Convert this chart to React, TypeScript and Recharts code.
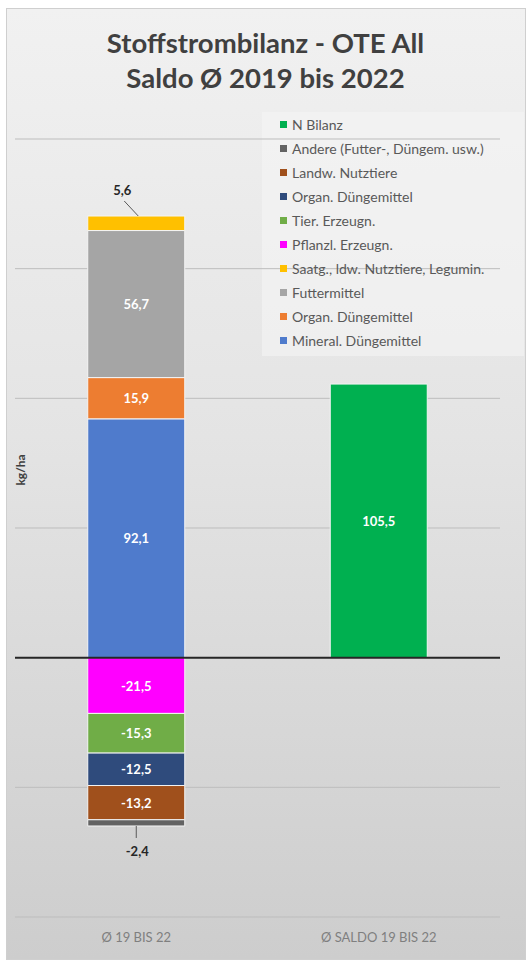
import React from 'react';
import { BarChart, Bar, XAxis, YAxis, CartesianGrid, ReferenceLine, LabelList } from 'recharts';

// categories on the x axis
const categories = ['Ø 19 BIS 22', 'Ø SALDO 19 BIS 22'];

// series values, kg/ha (first category = inputs/outputs, second = balance)
const mineralDuenger = [92.1, null];
const organDuengerIn = [15.9, null];
const futtermittel = [56.7, null];
const saatgut = [5.6, null];
const pflanzlErzeugn = [-21.5, null];
const tierErzeugn = [-15.3, null];
const organDuengerOut = [-12.5, null];
const landwNutztiere = [-13.2, null];
const andere = [-2.4, null];
const nBilanz = [null, 105.5];

const yTicks = [-100, -50, 0, 50, 100, 150, 200];

const FONT = 'Lato, "Open Sans", sans-serif';

// stacking order: positives upward from zero, negatives downward
const series = [
  { key: 'mineral', name: 'Mineral. Düngemittel', values: mineralDuenger, color: '#4f7bcc' },
  { key: 'organIn', name: 'Organ. Düngemittel', values: organDuengerIn, color: '#ed7d31' },
  { key: 'futter', name: 'Futtermittel', values: futtermittel, color: '#a5a5a5' },
  { key: 'saat', name: 'Saatg., ldw. Nutztiere, Legumin.', values: saatgut, color: '#ffc000' },
  { key: 'pflanzl', name: 'Pflanzl. Erzeugn.', values: pflanzlErzeugn, color: '#ff00ff' },
  { key: 'tier', name: 'Tier. Erzeugn.', values: tierErzeugn, color: '#70ad47' },
  { key: 'organOut', name: 'Organ. Düngemittel', values: organDuengerOut, color: '#2f4b7c' },
  { key: 'landw', name: 'Landw. Nutztiere', values: landwNutztiere, color: '#a0501c' },
  { key: 'andere', name: 'Andere (Futter-, Düngem. usw.)', values: andere, color: '#636363' },
  { key: 'nbil', name: 'N Bilanz', values: nBilanz, color: '#00b050' },
];

const data = categories.map((cat, i) => {
  const row: Record<string, any> = { cat };
  series.forEach((s) => {
    row[s.key] = s.values[i];
  });
  return row;
});

const fmt = (v: number) => v.toFixed(1).replace('.', ',');

const insideLabel = (props: any) => {
  const { x, y, width, height, value } = props;
  if (value === null || value === undefined) return null;
  const top = Math.min(y, y + height);
  const h = Math.abs(height);
  return (
    <text
      x={x + width / 2}
      y={top + h / 2}
      textAnchor="middle"
      dominantBaseline="central"
      fill="#ffffff"
      fontSize={13}
      fontWeight={700}
      fontFamily={FONT}
    >
      {fmt(value)}
    </text>
  );
};

const aboveLabel = (props: any) => {
  const { x, y, width, height, value } = props;
  if (value === null || value === undefined) return null;
  const top = Math.min(y, y + height);
  const cx = x + width / 2;
  return (
    <g>
      <line x1={cx + 2} y1={top} x2={cx - 12} y2={top - 15} stroke="#595959" strokeWidth={1} />
      <text
        x={cx - 14}
        y={top - 26}
        textAnchor="middle"
        dominantBaseline="central"
        fill="#262626"
        fontSize={13}
        fontWeight={700}
        fontFamily={FONT}
      >
        {fmt(value)}
      </text>
    </g>
  );
};

const belowLabel = (props: any) => {
  const { x, y, width, height, value } = props;
  if (value === null || value === undefined) return null;
  const bottom = Math.max(y, y + height);
  const cx = x + width / 2;
  return (
    <g>
      <line x1={cx} y1={bottom} x2={cx} y2={bottom + 12} stroke="#595959" strokeWidth={1} />
      <text
        x={cx + 1}
        y={bottom + 25}
        textAnchor="middle"
        dominantBaseline="central"
        fill="#262626"
        fontSize={13}
        fontWeight={700}
        fontFamily={FONT}
      >
        {fmt(value)}
      </text>
    </g>
  );
};

const labelFor = (key: string) => {
  if (key === 'saat') return aboveLabel;
  if (key === 'andere') return belowLabel;
  return insideLabel;
};

// legend shows the series in reverse order
const legendItems = [...series].reverse();

export default function App() {
  return (
    <div
      style={{
        position: 'absolute',
        left: 0,
        top: 0,
        width: 531,
        height: 964,
        background: '#ffffff',
        fontFamily: FONT,
      }}
    >
      <div
        style={{
          position: 'absolute',
          left: 6,
          top: 8,
          width: 518,
          height: 950,
          border: '1px solid #cfcfcf',
          background: 'linear-gradient(to bottom, #f1f1f1 0%, #e4e4e4 45%, #cdcdcd 100%)',
        }}
      />
      <div
        style={{
          position: 'absolute',
          left: 0,
          top: 25,
          width: 531,
          textAlign: 'center',
          color: '#404040',
          fontSize: 27.5,
          fontWeight: 700,
          lineHeight: '35px',
        }}
      >
        <div>Stoffstrombilanz - OTE All</div>
        <div>Saldo Ø 2019 bis 2022</div>
      </div>

      <div
        style={{
          position: 'absolute',
          left: 262,
          top: 112,
          width: 262,
          height: 244,
          background: 'rgba(246,246,246,0.55)',
        }}
      />

      <div style={{ position: 'absolute', left: 0, top: 0 }}>
        <BarChart
          width={531}
          height={964}
          data={data}
          stackOffset="sign"
          margin={{ top: 139, right: 31, left: 15, bottom: 17 }}
          barCategoryGap="30%"
        >
          <CartesianGrid vertical={false} stroke="#bdbdbd" strokeWidth={1} />
          <XAxis
            dataKey="cat"
            axisLine={false}
            tickLine={false}
            height={30}
            tickMargin={10}
            tick={{ fill: '#7f7f7f', fontSize: 13, fontFamily: FONT }}
          />
          <YAxis hide domain={[-100, 200]} ticks={yTicks} />
          {series.map((s) => (
            <Bar
              key={s.key}
              dataKey={s.key}
              name={s.name}
              stackId="a"
              fill={s.color}
              stroke="#f4f4f4"
              strokeWidth={1}
              isAnimationActive={false}
            >
              <LabelList dataKey={s.key} content={labelFor(s.key)} />
            </Bar>
          ))}
          <ReferenceLine y={0} stroke="#262626" strokeWidth={2} />
        </BarChart>
      </div>

      <div
        style={{
          position: 'absolute',
          left: 20,
          top: 470,
          transform: 'translate(-50%, -50%) rotate(-90deg)',
          fontSize: 12,
          fontWeight: 700,
          color: '#404040',
          whiteSpace: 'nowrap',
        }}
      >
        kg/ha
      </div>

      <div style={{ position: 'absolute', left: 262, top: 112, width: 262, height: 244 }}>
        {legendItems.map((s, i) => (
          <div
            key={s.key + i}
            style={{
              position: 'absolute',
              left: 18,
              top: 12 + i * 24.1 - 9,
              height: 18,
              display: 'flex',
              alignItems: 'center',
              fontSize: 14,
              color: '#595959',
              whiteSpace: 'nowrap',
            }}
          >
            <span
              style={{
                display: 'inline-block',
                width: 7,
                height: 7,
                background: s.color,
                marginRight: 5,
              }}
            />
            {s.name}
          </div>
        ))}
      </div>
    </div>
  );
}
